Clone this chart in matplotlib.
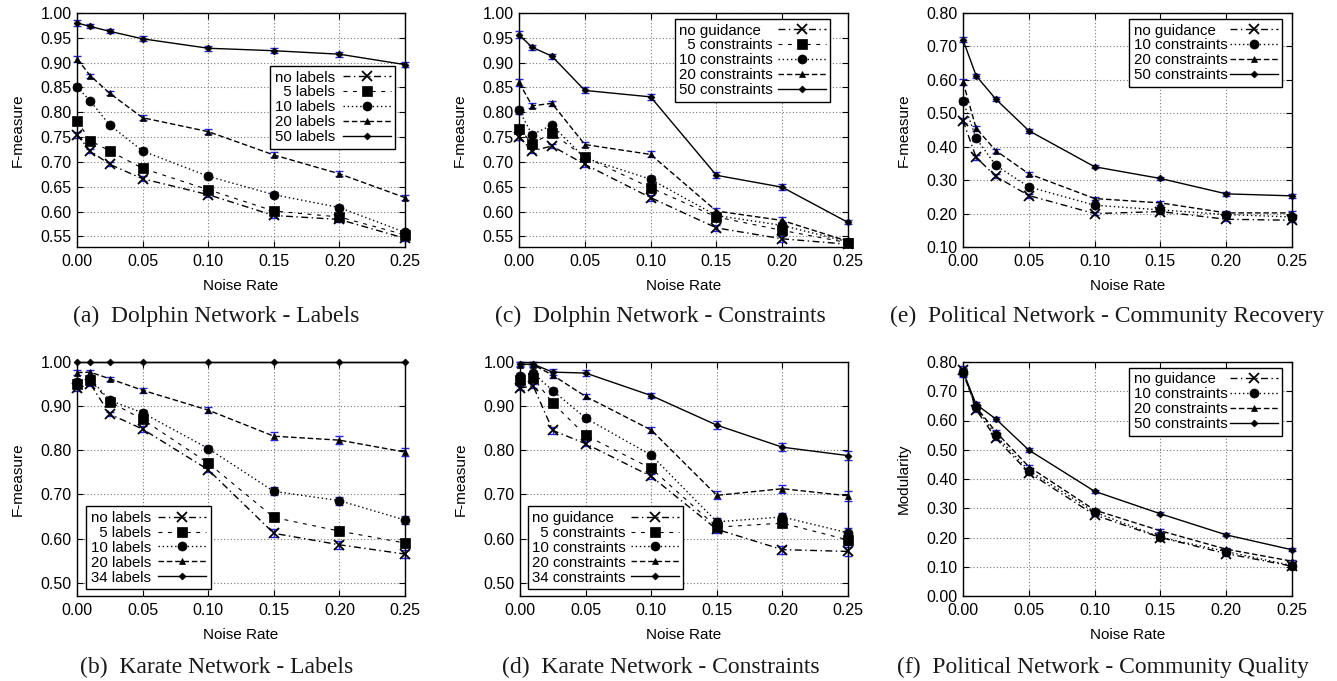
import matplotlib
matplotlib.use("Agg")
import matplotlib.pyplot as plt
from matplotlib.transforms import Bbox

plt.rcParams['font.family'] = ['Liberation Sans', 'DejaVu Sans']

# ---------------- data ----------------
noise = [0.0, 0.01, 0.025, 0.05, 0.10, 0.15, 0.20, 0.25]
xticks = [0.00, 0.05, 0.10, 0.15, 0.20, 0.25]

# (a) Dolphin Network - Labels
a_labels = ["no labels", "  5 labels", "10 labels", "20 labels", "50 labels"]
a_none = [0.755, 0.722, 0.695, 0.666, 0.634, 0.592, 0.584, 0.546]
a_5 = [0.783, 0.743, 0.722, 0.687, 0.644, 0.601, 0.589, 0.553]
a_10 = [0.851, 0.823, 0.774, 0.722, 0.671, 0.634, 0.608, 0.558]
a_20 = [0.908, 0.874, 0.838, 0.789, 0.761, 0.714, 0.676, 0.628]
a_50 = [0.980, 0.973, 0.963, 0.948, 0.929, 0.924, 0.917, 0.896]
a_err = [0.006, 0.004, 0.004, 0.005, 0.005, 0.005, 0.005, 0.005]

# (b) Karate Network - Labels
b_labels = ["no labels", "  5 labels", "10 labels", "20 labels", "34 labels"]
b_none = [0.940, 0.951, 0.882, 0.848, 0.756, 0.612, 0.586, 0.565]
b_5 = [0.951, 0.959, 0.910, 0.870, 0.771, 0.648, 0.617, 0.590]
b_10 = [0.955, 0.962, 0.913, 0.885, 0.804, 0.707, 0.686, 0.642]
b_20 = [0.976, 0.977, 0.962, 0.936, 0.891, 0.832, 0.823, 0.796]
b_34 = [1.000, 1.000, 1.000, 1.000, 1.000, 1.000, 1.000, 1.000]
b_err = [0.006, 0.006, 0.005, 0.006, 0.006, 0.009, 0.009, 0.010]
b_err_34 = [0.0, 0.0, 0.0, 0.0, 0.0, 0.0, 0.0, 0.0]

# (c) Dolphin Network - Constraints
c_labels = ["no guidance", "  5 constraints", "10 constraints", "20 constraints", "50 constraints"]
c_none = [0.751, 0.722, 0.732, 0.695, 0.628, 0.567, 0.545, 0.534]
c_5 = [0.767, 0.737, 0.758, 0.710, 0.648, 0.589, 0.562, 0.537]
c_10 = [0.804, 0.755, 0.774, 0.708, 0.665, 0.592, 0.572, 0.539]
c_20 = [0.860, 0.813, 0.818, 0.735, 0.715, 0.601, 0.582, 0.540]
c_50 = [0.956, 0.931, 0.913, 0.844, 0.831, 0.673, 0.649, 0.578]
c_err = [0.007, 0.005, 0.005, 0.006, 0.006, 0.006, 0.006, 0.004]

# (d) Karate Network - Constraints
d_labels = ["no guidance", "  5 constraints", "10 constraints", "20 constraints", "34 constraints"]
d_none = [0.941, 0.946, 0.845, 0.815, 0.741, 0.621, 0.575, 0.571]
d_5 = [0.960, 0.964, 0.907, 0.834, 0.759, 0.626, 0.635, 0.597]
d_10 = [0.969, 0.975, 0.935, 0.873, 0.789, 0.638, 0.649, 0.613]
d_20 = [0.994, 0.994, 0.970, 0.922, 0.846, 0.698, 0.713, 0.697]
d_34 = [0.995, 0.995, 0.977, 0.975, 0.924, 0.857, 0.807, 0.788]
d_err = [0.005, 0.005, 0.007, 0.006, 0.006, 0.009, 0.009, 0.011]

# (e) Political Network - Community Recovery
e_labels = ["no guidance", "10 constraints", "20 constraints", "50 constraints"]
e_none = [0.478, 0.368, 0.311, 0.254, 0.200, 0.206, 0.183, 0.180]
e_10 = [0.537, 0.425, 0.344, 0.280, 0.225, 0.211, 0.197, 0.190]
e_20 = [0.594, 0.455, 0.388, 0.319, 0.245, 0.232, 0.202, 0.202]
e_50 = [0.720, 0.612, 0.542, 0.448, 0.340, 0.305, 0.259, 0.253]
e_err = [0.008, 0.007, 0.006, 0.006, 0.005, 0.005, 0.005, 0.005]

# (f) Political Network - Community Quality
f_labels = ["no guidance", "10 constraints", "20 constraints", "50 constraints"]
f_none = [0.774, 0.637, 0.539, 0.422, 0.277, 0.200, 0.145, 0.102]
f_10 = [0.765, 0.646, 0.549, 0.429, 0.287, 0.201, 0.152, 0.104]
f_20 = [0.762, 0.646, 0.561, 0.442, 0.294, 0.223, 0.160, 0.119]
f_50 = [0.768, 0.655, 0.605, 0.499, 0.358, 0.281, 0.209, 0.158]
f_err = [0.012, 0.008, 0.006, 0.006, 0.005, 0.005, 0.005, 0.005]

captions = ["(a)  Dolphin Network - Labels", "(b)  Karate Network - Labels",
            "(c)  Dolphin Network - Constraints", "(d)  Karate Network - Constraints",
            "(e)  Political Network - Community Recovery", "(f)  Political Network - Community Quality"]

# ---------------- styles ----------------
STY = {
    'none': dict(ls=(0, (5, 2.5, 1, 2.5)), marker='x', ms=6.5, mew=1.3),
    's5': dict(ls=(0, (3.5, 5)), marker='s', ms=7, mew=0.5, lw=0.8),
    's10': dict(ls=(0, (1, 2)), marker='o', ms=6.5, mew=0.5),
    's20': dict(ls=(0, (4, 2)), marker='^', ms=5, mew=0.5),
    'sfull': dict(ls='-', marker='D', ms=3.5, mew=0.5),
}
BLUE = '#2424ee'
FS_TICK = 11.5
FS_LAB = 11
FS_LEG = 10.8

W, H = 1337, 681
fig = plt.figure(figsize=(W / 100, H / 100), dpi=100)


def fx(px):
    return px / W


def fy(py):
    return 1 - py / H


def make_ax(left, top, right, bottom):
    return fig.add_axes([fx(left), fy(bottom), fx(right - left), (bottom - top) / H])


def left_align_legend(leg):
    """Text left-aligned in a fixed-width column, line samples to the right."""
    r = fig.canvas.get_renderer()
    items = leg._legend_handle_box.get_children()[0].get_children()
    tboxes = [it.get_children()[0] for it in items]
    wmax = max(tb.get_bbox(r).width for tb in tboxes)
    for tb in tboxes:
        orig = tb.get_bbox

        def gb(renderer, orig=orig):
            b = orig(renderer)
            return Bbox.from_bounds(b.x0, b.y0, wmax, b.height)
        tb.get_bbox = gb


def panel(ax, series, labels, styles, errs, ylim, yticks, ylabel, leg_loc, leg_anchor, tpad):
    for ys, lab, sk, err in zip(series, labels, styles, errs):
        st = dict(STY[sk])
        lw = st.pop('lw', 1.0)
        if max(err) > 0:
            cont = ax.errorbar(noise, ys, yerr=err, fmt='none', ecolor=BLUE, elinewidth=1.0,
                               capsize=3, capthick=1.0, zorder=2)
            for art in list(cont.lines[1]) + list(cont.lines[2]):
                art.set_clip_on(False)
        ax.plot(noise, ys, color='black', lw=lw, mfc='black', mec='black',
                label=lab, zorder=3, clip_on=False, **st)
    ax.set_xlim(0, 0.25)
    ax.set_ylim(*ylim)
    ax.set_xticks(xticks)
    ax.set_xticklabels([f"{t:.2f}" for t in xticks])
    ax.set_yticks(yticks)
    ax.set_yticklabels([f"{t:.2f}" for t in yticks])
    ax.tick_params(direction='in', length=4, width=0.8, top=True, right=True,
                   labelsize=FS_TICK, colors='black')
    ax.tick_params(axis='x', pad=5)
    ax.tick_params(axis='y', pad=4)
    ax.grid(True, color='#777777', ls=(0, (1, 2)), lw=0.8)
    ax.set_axisbelow(True)
    for s in ax.spines.values():
        s.set_linewidth(1.0)
        s.set_color('black')
        s.set_zorder(4)
    ax.set_xlabel("Noise Rate", fontsize=FS_LAB, labelpad=7)
    ax.set_ylabel(ylabel, fontsize=FS_LAB, labelpad=11)
    leg = ax.legend(loc=leg_loc, bbox_to_anchor=leg_anchor, bbox_transform=fig.transFigure,
                    markerfirst=False, fontsize=FS_LEG, handlelength=3.2,
                    handletextpad=tpad, labelspacing=0.06, borderpad=0.3,
                    borderaxespad=0, fancybox=False, framealpha=1, edgecolor='black')
    leg.get_frame().set_linewidth(1.0)
    leg.set_zorder(6)
    left_align_legend(leg)


# axes boxes in pixels (left, top, right, bottom)
ax_a = make_ax(77, 13, 405, 247)
ax_c = make_ax(519, 13, 848, 247)
ax_e = make_ax(963, 13, 1292, 247)
ax_b = make_ax(77, 362, 405, 596)
ax_d = make_ax(520, 362, 848, 596)
ax_f = make_ax(963, 362, 1292, 596)

five = ['none', 's5', 's10', 's20', 'sfull']
four = ['none', 's10', 's20', 'sfull']

yt_a = [0.55, 0.60, 0.65, 0.70, 0.75, 0.80, 0.85, 0.90, 0.95, 1.00]
yt_b = [0.50, 0.60, 0.70, 0.80, 0.90, 1.00]
yt_e = [0.10, 0.20, 0.30, 0.40, 0.50, 0.60, 0.70, 0.80]
yt_f = [0.00, 0.10, 0.20, 0.30, 0.40, 0.50, 0.60, 0.70, 0.80]

panel(ax_a, [a_none, a_5, a_10, a_20, a_50], a_labels, five, [a_err] * 5,
      (0.5285, 1.0), yt_a, "F-measure", 'upper right', (fx(395), fy(66)), 0.5)
panel(ax_c, [c_none, c_5, c_10, c_20, c_50], c_labels, five, [c_err] * 5,
      (0.5285, 1.0), yt_a, "F-measure", 'upper right', (fx(830), fy(19)), 0.3)
panel(ax_e, [e_none, e_10, e_20, e_50], e_labels, four, [e_err] * 4,
      (0.10, 0.80), yt_e, "F-measure", 'upper right', (fx(1282), fy(19)), 0.15)
panel(ax_b, [b_none, b_5, b_10, b_20, b_34], b_labels, five, [b_err] * 4 + [b_err_34],
      (0.47, 1.0), yt_b, "F-measure", 'lower left', (fx(86), fy(589)), 0.5)
panel(ax_d, [d_none, d_5, d_10, d_20, d_34], d_labels, five, [d_err] * 5,
      (0.47, 1.0), yt_b, "F-measure", 'lower left', (fx(528), fy(589)), 0.3)
panel(ax_f, [f_none, f_10, f_20, f_50], f_labels, four, [f_err] * 4,
      (0.00, 0.80), yt_f, "Modularity", 'upper right', (fx(1282), fy(368)), 0.15)

cap_pos = [(216, 316), (217, 667), (660, 316), (661, 667), (1107, 316), (1103, 667)]
for txt, (cx, cy) in zip(captions, cap_pos):
    fig.text(fx(cx), fy(cy), txt, ha='center', va='center', fontsize=17,
             family=['Liberation Serif', 'DejaVu Serif'], color='#1a1a1a')

fig.savefig("out.png", dpi=100)
